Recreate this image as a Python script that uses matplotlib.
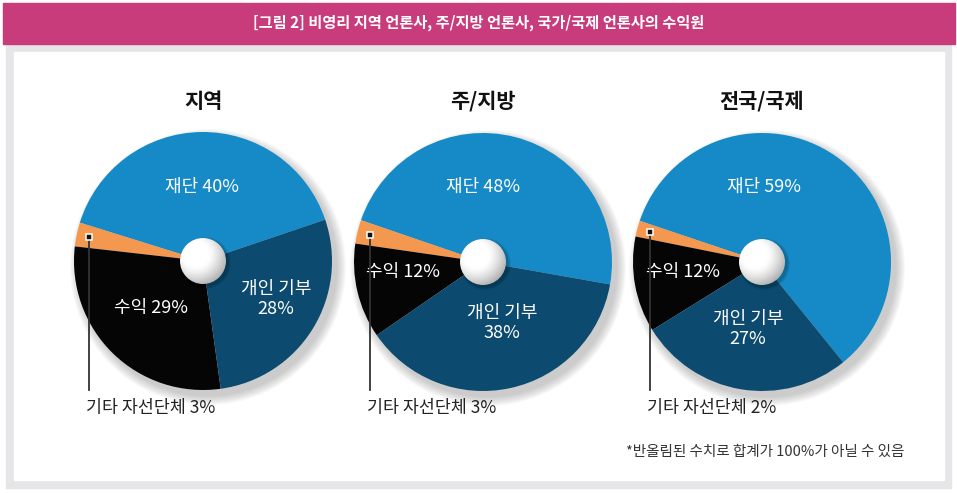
import numpy as np
import matplotlib
matplotlib.use("Agg")
import matplotlib.pyplot as plt
from matplotlib.patches import Rectangle, Circle

plt.rcParams['font.family'] = ['Noto Sans CJK KR', 'DejaVu Sans']

# ---------------- data ----------------
header = "[그림 2] 비영리 지역 언론사, 주/지방 언론사, 국가/국제 언론사의 수익원"
pie_titles = ["지역", "주/지방", "전국/국제"]
categories = ["재단", "기타 자선단체", "수익", "개인 기부"]
values_local = [40, 3, 29, 28]
values_state = [48, 3, 12, 38]
values_national = [59, 2, 12, 27]
footnote = "*반올림된 수치로 합계가 100%가 아닐 수 있음"

series = [values_local, values_state, values_national]
colors = ["#158ac6", "#f4974f", "#050505", "#0c4b6f"]

# ---------------- layout ----------------
W, H = 957, 493
fig = plt.figure(figsize=(W / 100, H / 100), dpi=100)
ax = fig.add_axes([0, 0, 1, 1])

def Y(y):
    return H - y

centers = [(203, 261), (483, 262), (762, 262)]
R = 129
hole_r = 23
start_angles = [18.7, -10, -51]
label_pos = [
    {"재단": (202, 187), "수익": (151, 308), "개인 기부": (276, 299)},
    {"재단": (483, 187), "수익": (403, 272), "개인 기부": (502, 323)},
    {"재단": (764, 187), "수익": (683, 272), "개인 기부": (748, 329)},
]
title_y = 101

# background
ax.add_patch(Rectangle((0, 0), W, H, color="white", zorder=0))
ax.add_patch(Rectangle((6, Y(488)), 945, 444, color="#e6e6e8", zorder=0.5))
ax.add_patch(Rectangle((14, Y(480)), 930, 428, color="white", zorder=0.6))
ax.add_patch(Rectangle((3, Y(44)), 952, 41, color="#c83c7b", zorder=1))
ax.text(479, Y(23), header, color="white", fontsize=11, fontweight="bold",
        ha="center", va="center", zorder=2)

for i, (vals, (cx, cy)) in enumerate(zip(series, centers)):
    ccx, ccy = cx, Y(cy)
    # soft drop shadow
    for k in range(12):
        ax.add_patch(Circle((ccx + 5, ccy - 6), R + 9 - k * 0.8,
                            color="#7a7a7a", alpha=0.035, lw=0, zorder=2))
    wedges, _ = ax.pie(vals, colors=colors, startangle=start_angles[i],
                       counterclock=True, center=(ccx, ccy), radius=R,
                       wedgeprops=dict(linewidth=0), normalize=True)
    for w in wedges:
        w.set_zorder(3)
    # sphere-like hole
    for k in range(6):
        ax.add_patch(Circle((ccx + 2, ccy - 2), hole_r + 3 - k * 0.5,
                            color="#000000", alpha=0.04, lw=0, zorder=4))
    n = 200
    gx, gy = np.meshgrid(np.linspace(-1, 1, n), np.linspace(-1, 1, n))
    d = np.sqrt((gx + 0.3) ** 2 + (gy - 0.3) ** 2)
    shade = 1.0 - 0.38 * np.clip((d - 0.55) / 1.0, 0, 1) ** 1.3
    img = ax.imshow(shade, cmap="gray", vmin=0, vmax=1, origin="lower",
                    extent=(ccx - hole_r, ccx + hole_r, ccy - hole_r, ccy + hole_r),
                    zorder=5, interpolation="bilinear")
    clip = Circle((ccx, ccy), hole_r, transform=ax.transData)
    img.set_clip_path(clip)

    # labels
    lp = label_pos[i]
    ax.text(lp["재단"][0], Y(lp["재단"][1]), f"{categories[0]} {vals[0]}%",
            color="white", fontsize=13, ha="center", va="center", zorder=6)
    ax.text(lp["수익"][0], Y(lp["수익"][1]), f"{categories[2]} {vals[2]}%",
            color="white", fontsize=13, ha="center", va="center", zorder=6)
    ax.text(lp["개인 기부"][0], Y(lp["개인 기부"][1]), f"{categories[3]}\n{vals[3]}%",
            color="white", fontsize=13, ha="center", va="center",
            linespacing=1.1, zorder=6)

    # callout for 기타 자선단체
    w = wedges[1]
    mid = np.deg2rad((w.theta1 + w.theta2) / 2)
    mx = ccx + 0.9 * R * np.cos(mid)
    my = ccy + 0.9 * R * np.sin(mid)
    ax.plot([mx, mx], [my, Y(390)], color="#333333", lw=1.3, zorder=6)
    ax.plot([mx], [my], marker="s", ms=4.5, mfc="#111111", mec="white", mew=1.1, zorder=7)
    ax.text(mx - 3, Y(408), f"{categories[1]} {vals[1]}%", color="#222222",
            fontsize=12.5, ha="left", va="center", zorder=6)

    # pie title with underline
    t = ax.text(cx, Y(title_y), pie_titles[i], fontsize=15, fontweight="bold",
                ha="center", va="center", color="#111111", zorder=6)
    fig.canvas.draw()
    bb = t.get_window_extent().transformed(ax.transData.inverted())
    ax.plot([bb.x0, bb.x1], [Y(113), Y(113)], color="#111111", lw=1.3, zorder=6)

ax.text(904, Y(452), footnote, fontsize=10.5, color="#333333",
        ha="right", va="center", zorder=6)

ax.set_xlim(0, W)
ax.set_ylim(0, H)
ax.set_aspect("auto")
ax.axis("off")
fig.savefig("out.png", dpi=100)
